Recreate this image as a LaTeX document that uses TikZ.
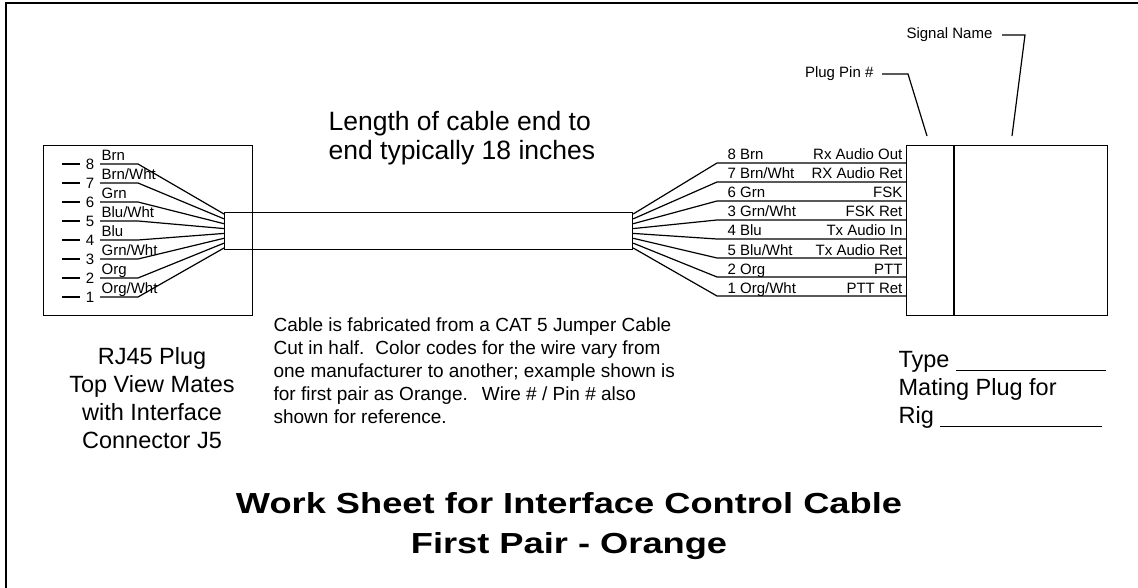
\documentclass[tikz,border=0pt]{standalone}
\usepackage{fontspec}
\setmainfont{Liberation Sans}
\newfontfamily\titlefont[FakeStretch=1.25]{Liberation Sans}
\usetikzlibrary{positioning}

\tikzset{
    lbl/.style={inner sep=0pt, font=\fontsize{15}{16}\selectfont},
    wirebox/.style={draw, line width=1.2pt, inner sep=0pt, anchor=north west},
    textblock/.style={inner sep=0pt, anchor=base west, align=left}
}

\begin{document}
\begin{tikzpicture}[x=1pt, y=-1pt, line width=1.2pt]
        \useasboundingbox (0,0) rectangle (1138,588);
        \def \wirestep {19}
        \def \cabletop {214}
        \def \fanstep {34/7}

        % frame on the top and left side only
        \draw[line width=2pt] (5.5,588) -- (5.5,3.3) -- (1138,3.3);

        % plug, cable and rig connector
        \node[wirebox, minimum width=209pt, minimum height=170pt] (rj) at (43,145) {};
        \node[wirebox, minimum width=408pt, minimum height=37pt] (cable) at (224,212) {};
        \node[wirebox, minimum width=201pt, minimum height=170pt] (rig) at (906,145) {};
        \draw ([xshift=48pt]rig.north west) -- ([xshift=48pt]rig.south west);

        % iterate on the RJ45 pins, top pin first
        \foreach \pin/\col [count=\i from 0] in {8/Brn, 7/{Brn/Wht}, 6/Grn, 5/{Blu/Wht},
                                                 4/Blu, 3/{Grn/Wht}, 2/Org, 1/{Org/Wht}} {
            \pgfmathsetmacro \wy {164+\i*\wirestep}
            \pgfmathsetmacro \ey {\cabletop+\i*\fanstep}
            \coordinate (lpin\pin) at (62,\wy);
            \coordinate (lw\pin) at (100,\wy);
            \coordinate (lc\pin) at (cable.west |- 0,\ey);
            \draw (lpin\pin) -- ++(18,0);
            \node[lbl] (lnum\pin) at (90,\wy) {\pin};
            \node[lbl, anchor=base west] (lcol\pin) at (101,\wy-3.5) {\col};
            \draw (lw\pin) -- ++(38,0) -- (lc\pin);
        }

        % iterate on the wires at the rig end, with the signal of each
        \foreach \wire/\signal [count=\i from 0] in {{8 Brn}/{Rx Audio Out}, {7 Brn/Wht}/{RX Audio Ret},
                                                     {6 Grn}/FSK, {3 Grn/Wht}/{FSK Ret},
                                                     {4 Blu}/{Tx Audio In}, {5 Blu/Wht}/{Tx Audio Ret},
                                                     {2 Org}/PTT, {1 Org/Wht}/{PTT Ret}} {
            \pgfmathsetmacro \wy {163+\i*\wirestep}
            \pgfmathsetmacro \ey {\cabletop+\i*\fanstep}
            \coordinate (rc\i) at (cable.east |- 0,\ey);
            \coordinate (rw\i) at (717,\wy);
            \coordinate (rr\i) at (rig.west |- 0,\wy);
            \draw (rc\i) -- (rw\i) -- (rr\i);
            \node[lbl, anchor=base west] (rwire\i) at (727,\wy-3) {\wire};
            \node[lbl, anchor=base east] (rsig\i) at (903,\wy-3) {\signal};
        }

        % leaders to the two columns of the rig connector
        \node[lbl, anchor=east] (pinname) at (874,74) {Plug Pin \#};
        \node[lbl, anchor=east] (signame) at (993,35) {Signal Name};
        \coordinate (pinend) at (927,136);
        \coordinate (sigend) at (1012,136);
        \draw ([xshift=8pt]pinname.east) -- (908,74) -- (pinend);
        \draw ([xshift=9pt]signame.east) -- (1025,35) -- (sigend);

        % texts, each placed by the baseline of its last line
        \node[textblock, font=\fontsize{26.5}{29}\selectfont] (length)
            at (328,160) {Length of cable end to\\end typically 18 inches};
        \node[textblock, anchor=base, align=center, font=\fontsize{23.5}{27.7}\selectfont] (rjtext)
            at (152,448) {RJ45 Plug\\Top View Mates\\with Interface\\Connector J5};
        \node[textblock, font=\fontsize{19}{23}\selectfont] (note)
            at (273,423) {Cable is fabricated from a CAT 5 Jumper Cable\\
                          Cut in half.\hspace{11pt}Color codes for the wire vary from\\
                          one manufacturer to another; example shown is\\
                          for first pair as Orange.\hspace{14pt}Wire \# / Pin \# also\\
                          shown for reference.};
        \node[textblock, font=\fontsize{23.5}{28}\selectfont] (rigtext)
            at (898,423) {Type \rule[-4pt]{150pt}{1.2pt}\\Mating Plug for\\Rig \rule[-4pt]{162pt}{1.2pt}};
        \node[textblock, anchor=base, align=center, font=\titlefont\bfseries\fontsize{29}{40}\selectfont] (title)
            at (569,553) {Work Sheet for Interface Control Cable\\First Pair - Orange};
    \end{tikzpicture}
\end{document}
